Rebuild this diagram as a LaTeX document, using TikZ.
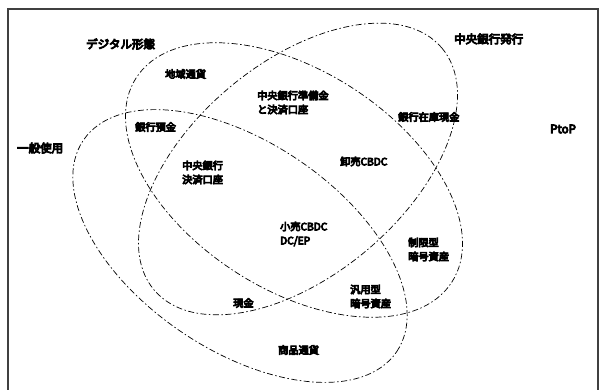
\documentclass[tikz,border=0pt]{standalone}
\usepackage{fontspec}
\setmainfont{Noto Sans CJK JP}
\newfontfamily\jpheavy[FakeBold=8]{Noto Sans CJK JP}
\begin{document}
\begin{tikzpicture}[x=1pt,y=-1pt,
  petal/.style={draw=black, line width=0.7pt, dash pattern=on 6pt off 2.5pt on 1.5pt off 2.5pt},
  outerlab/.style={font=\jpheavy\fontsize{11.5}{13}\selectfont, inner sep=0pt, anchor=west},
  inlab/.style={font=\jpheavy\fontsize{10.2}{14}\selectfont, inner sep=0pt, align=left, anchor=west},
]
\useasboundingbox (0,0) rectangle (606,390);
\fill[white] (0,0) rectangle (606,390);
\draw[line width=1.5pt, black!75] (8,395) -- (8,9) -- (598,9) -- (598,395);

% petals
\draw[petal, shift={(294,180)}, rotate=-33] (0,0) ellipse [x radius=188pt, y radius=109pt];
\draw[petal, shift={(298,169)}, rotate=40] (0,0) ellipse [x radius=188pt, y radius=106.5pt];
\draw[petal, shift={(240,246)}, rotate=-34] (0,0) ellipse [x radius=189pt, y radius=104pt];

% outer labels
\node[outerlab] (dig) at (86,44) {デジタル形態};
\node[outerlab] (cbi) at (454,39) {中央銀行発行};
\node[outerlab] (uni) at (17,148) {一般使用};
\node[outerlab] (ptp) at (550,129) {PtoP};

% inner labels
\node[inlab] (local) at (165,74) {地域通貨};
\node[inlab] (dep) at (135,127) {銀行預金};
\node[inlab] (res) at (257,102.5) {中央銀行準備金\\と決済口座};
\node[inlab] (vault) at (398,117) {銀行在庫現金};
\node[inlab] (whole) at (340,161.5) {卸売CBDC};
\node[inlab] (acct) at (182,172.5) {中央銀行\\決済口座};
\node[inlab] (retail) at (280,234) {小売CBDC\\DC/EP};
\node[inlab] (restr) at (408,249.5) {制限型\\暗号資産};
\node[inlab] (gen) at (350,296.5) {汎用型\\暗号資産};
\node[inlab] (cash) at (233,303) {現金};
\node[inlab] (comm) at (278,350) {商品通貨};
\end{tikzpicture}
\end{document}
